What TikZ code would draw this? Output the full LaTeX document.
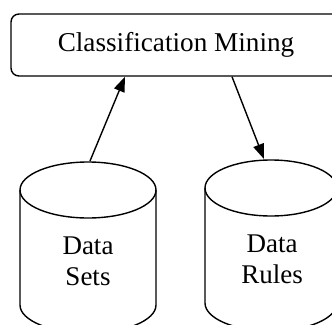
\documentclass[tikz,border=0pt]{standalone}
\usepackage{fontspec}
\setmainfont{Liberation Serif}
\usetikzlibrary{arrows.meta}
\begin{document}
\begin{tikzpicture}[x=1pt,y=-1pt,
  line width=1.4pt,
  boxstyle/.style={draw,rounded corners=8pt,minimum width=349pt,minimum height=62pt,inner sep=0pt,font=\fontsize{27.2}{31}\selectfont},
  txt/.style={align=center,inner sep=0pt,font=\fontsize{27}{31}\selectfont},
  arr/.style={-{Triangle[length=15pt,width=11pt]}}]
\useasboundingbox (0,0) rectangle (332,324);
\clip (0,0) rectangle (332,324);
\node[boxstyle] (cm) at (185.5,45) {\hspace*{-19pt}Classification Mining};
% left cylinder
\draw (20,190) -- (20,305) arc[start angle=180,end angle=360,x radius=68pt,y radius=28pt] -- (156,190);
\draw (88,190) ellipse[x radius=68pt,y radius=28pt];
\node[txt] (ds) at (88,261) {Data\\Sets};
% right cylinder
\draw (205,188) -- (205,303) arc[start angle=180,end angle=360,x radius=66pt,y radius=28pt] -- (337,188);
\draw (271,188) ellipse[x radius=66pt,y radius=28pt];
\node[txt] (dr) at (272,259) {Data\\Rules};
\coordinate (dstop) at (90,161);
\coordinate (cmbl) at (125,76.7);
\coordinate (cmbr) at (232,76.7);
\coordinate (drtop) at (264,159);
\draw[arr] (dstop) -- (cmbl);
\draw[arr] (cmbr) -- (drtop);
\end{tikzpicture}
\end{document}
